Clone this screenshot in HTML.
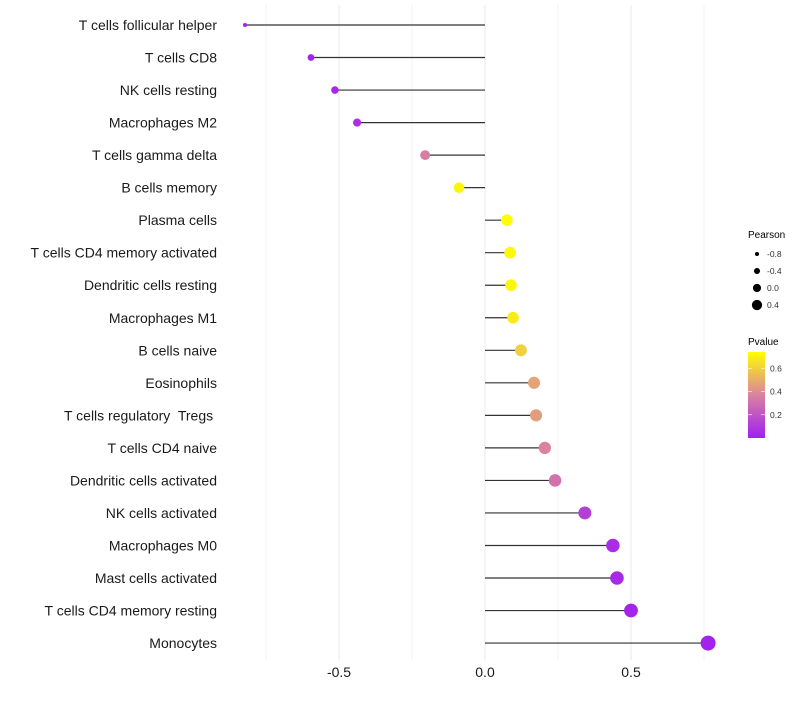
<!DOCTYPE html>
<html><head><meta charset="utf-8"><style>
body{margin:0;background:#fff;font-family:"Liberation Sans",sans-serif}
text{white-space:pre}
</style></head><body>
<svg id="c" width="800" height="700" xmlns="http://www.w3.org/2000/svg" font-family="Liberation Sans, sans-serif"></svg>
<script>
const categories=["T cells follicular helper","T cells CD8","NK cells resting","Macrophages M2","T cells gamma delta","B cells memory","Plasma cells","T cells CD4 memory activated","Dendritic cells resting","Macrophages M1","B cells naive","Eosinophils","T cells regulatory  Tregs ","T cells CD4 naive","Dendritic cells activated","NK cells activated","Macrophages M0","Mast cells activated","T cells CD4 memory resting","Monocytes"];
const pearson=[-0.822,-0.596,-0.514,-0.438,-0.205,-0.089,0.075,0.086,0.089,0.096,0.123,0.168,0.175,0.205,0.240,0.342,0.438,0.452,0.500,0.764];
const pvalue=[0.02,0.02,0.03,0.06,0.35,0.71,0.74,0.72,0.71,0.68,0.60,0.47,0.45,0.37,0.31,0.12,0.05,0.04,0.02,0.01];
const xTicks=[-0.5,0,0.5];
const xTickLabels=["-0.5","0.0","0.5"];
const sizeLegend=[-0.8,-0.4,0.0,0.4];
const colorLegend=[0.2,0.4,0.6];
const NS="http://www.w3.org/2000/svg",svg=document.getElementById('c');
const x=v=>485+v*292, y=i=>25+i*32.53;
const r=v=>Math.sqrt(4+33*Math.max(0,v+0.82));
const rl=v=>2+(v+0.8)*2.6;
const pmax=0.74;
function mix(a,b,t){return a.map((c,i)=>Math.round(c+(b[i]-c)*t));}
function col(p){const t=Math.max(0,Math.min(1,p/pmax));const A=[160,32,240],M=[218,130,160],B=[255,255,0];
 const c=t<0.5?mix(A,M,t/0.5):mix(M,B,(t-0.5)/0.5);return `rgb(${c.join(',')})`;}
function el(t,a,txt){const e=document.createElementNS(NS,t);for(const k in a)e.setAttribute(k,a[k]);if(txt!==undefined)e.textContent=txt;svg.appendChild(e);return e;}
for(let v=-0.75;v<=0.76;v+=0.25){const g=el('line',{x1:x(v),x2:x(v),y1:5,y2:660,stroke:'#ebebeb','stroke-width':Math.abs(v*4%2)===1?0.6:1.1});
}
categories.forEach((c,i)=>{
 const t=el('text',{x:217,y:y(i)+5,'text-anchor':'end','font-size':14,fill:'#1a1a1a'},c);
 
 const l=el('line',{x1:x(0),x2:x(pearson[i]),y1:y(i),y2:y(i),stroke:'#333','stroke-width':1.2});
 
 const p=el('circle',{cx:x(pearson[i]),cy:y(i),r:r(pearson[i]),fill:col(pvalue[i])});
 
});
xTicks.forEach((v,i)=>{const t=el('text',{x:x(v),y:677,'text-anchor':'middle','font-size':14,fill:'#1a1a1a'},xTickLabels[i]);
});
let t=el('text',{x:748,y:238,'font-size':10,fill:'#000'},'Pearson');
sizeLegend.forEach((v,i)=>{const cy=254+i*17;
 const c=el('circle',{cx:757,cy:cy,r:rl(v),fill:'#000'});
 const tt=el('text',{x:767,y:cy+3,'font-size':8.5,fill:'#333'},v.toFixed(1));});
t=el('text',{x:748,y:345,'font-size':10,fill:'#000'},'Pvalue');
const defs=el('defs',{});const lg=document.createElementNS(NS,'linearGradient');lg.setAttribute('id','g');lg.setAttribute('x1','0');lg.setAttribute('y1','1');lg.setAttribute('x2','0');lg.setAttribute('y2','0');
[0,0.25,0.5,0.75,1].forEach(s=>{const st=document.createElementNS(NS,'stop');st.setAttribute('offset',s);st.setAttribute('stop-color',col(s*pmax));lg.appendChild(st);});defs.appendChild(lg);
const bar=el('rect',{x:748,y:352,width:17,height:86,fill:'url(#g)'});
colorLegend.forEach(v=>{const cy=438-v/pmax*86;
 el('line',{x1:748,x2:752,y1:cy,y2:cy,stroke:'#fff','stroke-width':0.6});el('line',{x1:761,x2:765,y1:cy,y2:cy,stroke:'#fff','stroke-width':0.6});
 const tt=el('text',{x:770,y:cy+3,'font-size':8.5,fill:'#333'},v.toFixed(1));});
</script></body></html>
